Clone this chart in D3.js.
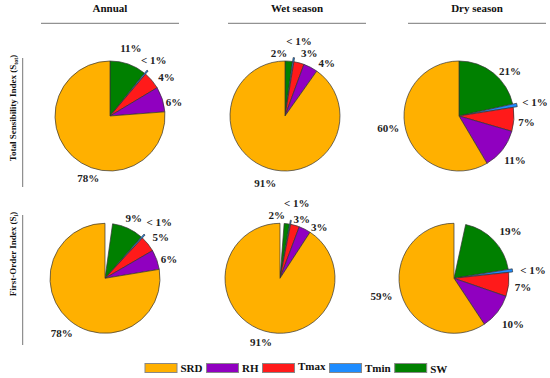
<!DOCTYPE html>
<html><head><meta charset="utf-8">
<script src="https://cdn.jsdelivr.net/npm/d3@7"></script>
<style>
body{margin:0;background:#fff}svg{display:block}
text{font-family:"Liberation Serif","Times New Roman",serif;}
</style>
</head><body>
<svg id="c" width="550" height="378"></svg>
<script>
// ---------- data ----------
const seasons = ["Annual", "Wet season", "Dry season"];
const rowLabels = [["Total Sensibility Index (S", "tot", ")"], ["First-Order Index (S", "i", ")"]];
const variables = ["SRD", "RH", "Tmax", "Tmin", "SW"];
const colors = ["#FFB000", "#9000C0", "#FF1A1A", "#1E8CFF", "#008000"];
// slices clockwise from 12 o'clock; "gap" = unexplained remainder (first-order only)
const sliceKeys = ["gap", "SW", "Tmin", "Tmax", "RH", "SRD"];
const totalAnnual = [0, 10.8, 0.4, 5.2, 7.4, 76.2];
const totalWet    = [0, 2.2, 0.4, 3.0, 4.2, 90.2];
const totalDry    = [0, 21.5, 1.0, 7.0, 12.0, 58.5];
const firstAnnual = [2.2, 9.3, 0.4, 4.7, 5.8, 77.6];
const firstWet    = [1.2, 1.6, 0.3, 2.6, 3.5, 90.8];
const firstDry    = [3.4, 19.0, 0.9, 7.0, 10.4, 59.3];
// printed labels for SW, Tmin, Tmax, RH, SRD
const lblTotalAnnual = ["11%", "< 1%", "4%", "6%", "78%"];
const lblTotalWet    = ["2%", "< 1%", "3%", "4%", "91%"];
const lblTotalDry    = ["21%", "< 1%", "7%", "11%", "60%"];
const lblFirstAnnual = ["9%", "< 1%", "5%", "6%", "78%"];
const lblFirstWet    = ["2%", "< 1%", "3%", "3%", "91%"];
const lblFirstDry    = ["19%", "< 1%", "7%", "10%", "59%"];

// ---------- layout ----------
const W = 550, H = 378, R = 55;
const colX = [110, 285, 459], rowY = [116, 278.3], rowShift = [0, -5];
const headerX = [110, 297, 477];
const labelNudge = [
  [[[-2,-3],[0,-3],[4,5],[-1.5,7],[25,12]], [[-10.7,5.3],[3.7,-7],[6.7,3.8],[9.7,7.6],[1,1]], [[8,8.3],[8.5,-1],[-1,1.7],[1.7,2],[-4.4,-5.8]]],
  [[[0,2.5],[8.2,-5.6],[2,2],[-0.7,4],[1.2,2.6]], [[-12,5],[4,-7.4],[3,7],[8.3,9.8],[0.6,-2.5]], [[6.6,0],[11,1],[0.7,1.2],[4.7,3.6],[-6.8,-2.1]]]
];
const pies = [
  [[totalAnnual, lblTotalAnnual], [totalWet, lblTotalWet], [totalDry, lblTotalDry]],
  [[firstAnnual, lblFirstAnnual], [firstWet, lblFirstWet], [firstDry, lblFirstDry]]
];
const color = d3.scaleOrdinal().domain(variables).range(colors);

const svg = d3.select("#c");
svg.append("rect").attr("width", W).attr("height", H).attr("fill", "#fff");

// column headers
seasons.forEach((s, i) => {
  svg.append("text").attr("x", headerX[i]).attr("y", 12).attr("text-anchor", "middle")
    .attr("font-weight", "bold").attr("font-size", 11).attr("fill", "#111").text(s);
  svg.append("line").attr("x1", headerX[i] - 69).attr("x2", headerX[i] + 69)
    .attr("y1", 23.3).attr("y2", 23.3).attr("stroke", "#777").attr("stroke-width", 1);
});

// row labels
const rowLabelY = [108, 254], rowLineY = [[58, 187], [215, 345]];
rowLabels.forEach((parts, i) => {
  const t = svg.append("text").attr("transform", `translate(16,${rowLabelY[i]}) rotate(-90)`)
    .attr("text-anchor", "middle").attr("font-weight", "bold")
    .attr("font-size", 9).attr("fill", "#111");
  t.append("tspan").text(parts[0]);
  t.append("tspan").attr("font-size", 6).attr("dy", 2).text(parts[1]);
  t.append("tspan").attr("dy", -2).text(parts[2]);
  svg.append("line").attr("x1", 22.7).attr("x2", 22.7).attr("y1", rowLineY[i][0]).attr("y2", rowLineY[i][1])
    .attr("stroke", "#777").attr("stroke-width", 1);
});

const pie = d3.pie().sort(null).value(d => d.v);
const arc = d3.arc().innerRadius(0).outerRadius(R);
const labelArc = d3.arc().innerRadius(R * 1.25).outerRadius(R * 1.25);

pies.forEach((row, ri) => {
  row.forEach(([vals, lbls], ci) => {
    const g = svg.append("g").attr("transform", `translate(${colX[ci] + rowShift[ri]},${rowY[ri]})`);
    const data = sliceKeys.map((k, j) => ({ k, v: vals[j] }));
    const arcs = pie(data);
    g.selectAll("path").data(arcs.filter(d => d.data.k !== "gap" && d.data.v > 0)).join("path")
      .attr("d", arc)
      .attr("transform", d => {
        if (d.data.k !== "Tmin") return null;
        const m = (d.startAngle + d.endAngle) / 2;
        return `translate(${4 * Math.sin(m)},${-4 * Math.cos(m)})`;
      })
      .attr("fill", d => color(d.data.k))
      .attr("stroke", "#333").attr("stroke-width", 0.7).attr("stroke-linejoin", "round");
    const labelled = arcs.filter(d => d.data.k !== "gap");
    g.selectAll("text").data(labelled).join("text")
      .attr("x", (d, j) => labelArc.centroid(d)[0] + labelNudge[ri][ci][j][0])
      .attr("y", (d, j) => labelArc.centroid(d)[1] + labelNudge[ri][ci][j][1])
      .attr("text-anchor", "middle").attr("dominant-baseline", "central")
      .attr("font-weight", "bold").attr("font-size", 11).attr("fill", "#222")
      .text((d, j) => lbls[j]);
  });
});

// legend
const legendDy = [0, 0, -2, 0, 1.5];
let lx = 145;
const lg = svg.append("g");
variables.forEach((v, i) => {
  lg.append("rect").attr("x", lx).attr("y", 363.5).attr("width", 32).attr("height", 9)
    .attr("fill", color(v)).attr("stroke", "#888").attr("stroke-width", 1);
  const t = lg.append("text").attr("x", lx + 35.5).attr("y", 371.5 + legendDy[i])
    .attr("font-weight", "bold").attr("font-size", 11).attr("fill", "#111").text(v);
  lx += 35.5 + t.node().getComputedTextLength() + 4;
});
</script>
</body></html>
